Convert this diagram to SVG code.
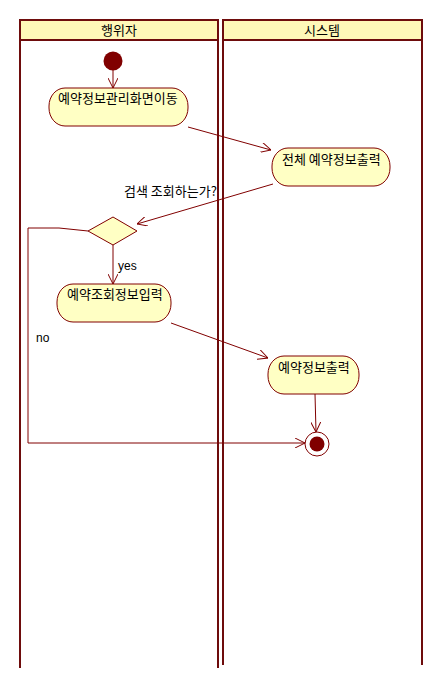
<svg xmlns="http://www.w3.org/2000/svg" width="443" height="688" viewBox="0 0 443 688">
<defs>
<style>
.lane{fill:none;stroke:#6e0c0c;stroke-width:2}
.head{fill:#fff8b8;stroke:#6e0c0c;stroke-width:2}
.act{fill:#ffffc4;stroke:#800000;stroke-width:1}
.edge{fill:none;stroke:#800000;stroke-width:1}
text{font-family:"Noto Sans CJK KR","Liberation Sans",sans-serif;font-size:13px;fill:#000}
.lat{font-family:"Liberation Sans",sans-serif;font-size:12px}
.ht{text-anchor:middle}
</style>
<marker id="arr" viewBox="0 0 10 10" refX="10" refY="5" markerWidth="10" markerHeight="10" markerUnits="userSpaceOnUse" orient="auto">
<path d="M0,0 L10,5 L0,10" fill="none" stroke="#800000" stroke-width="1"/>
</marker>
</defs>
<rect width="443" height="688" fill="#fff"/>
<g id="lane-actor">
<path class="lane" d="M20,668 V20 H218 V668"/>
<rect class="head" x="20" y="20" width="198" height="20"/>
<text class="ht" x="119" y="35">행위자</text>
</g>
<g id="lane-system">
<path class="lane" d="M223,665 V20 H422 V665"/>
<rect class="head" x="223" y="20" width="199" height="20"/>
<text class="ht" x="322" y="35">시스템</text>
</g>
<g id="edges">
<line class="edge" x1="113" y1="70" x2="113" y2="88" marker-end="url(#arr)"/>
<line class="edge" x1="188" y1="127" x2="271" y2="150" marker-end="url(#arr)"/>
<line class="edge" x1="273" y1="184" x2="137" y2="224" marker-end="url(#arr)"/>
<line class="edge" x1="113" y1="245" x2="113" y2="284" marker-end="url(#arr)"/>
<polyline class="edge" points="88,231 59,228 28,228 28,443 305,443" marker-end="url(#arr)"/>
<line class="edge" x1="171" y1="323" x2="268" y2="358" marker-end="url(#arr)"/>
<line class="edge" x1="315" y1="394" x2="316" y2="432" marker-end="url(#arr)"/>
<text x="124" y="196">검색 조회하는가?</text>
<text class="lat" x="118" y="270">yes</text>
<text class="lat" x="36" y="342">no</text>
</g>
<g id="start">
<circle cx="113" cy="61" r="9.5" fill="#800000"/>
</g>
<g id="act1">
<rect class="act" x="49" y="88" width="139" height="38" rx="16" ry="18"/>
<text x="58" y="103">예약정보관리화면이동</text>
</g>
<g id="act2">
<rect class="act" x="272" y="148" width="118" height="38" rx="16" ry="18"/>
<text x="282" y="164">전체 예약정보출력</text>
</g>
<g id="decision">
<polygon class="act" points="88,231 113,217 137,231 113,245"/>
</g>
<g id="act3">
<rect class="act" x="57" y="284" width="114" height="38" rx="16" ry="18"/>
<text x="67" y="299">예약조회정보입력</text>
</g>
<g id="act4">
<rect class="act" x="268" y="356" width="91" height="38" rx="16" ry="18"/>
<text x="278" y="372">예약정보출력</text>
</g>
<g id="end">
<circle cx="317" cy="444" r="12" fill="#fff" stroke="#800000" stroke-width="1"/>
<circle cx="317" cy="444" r="7.5" fill="#800000"/>
</g>
</svg>
